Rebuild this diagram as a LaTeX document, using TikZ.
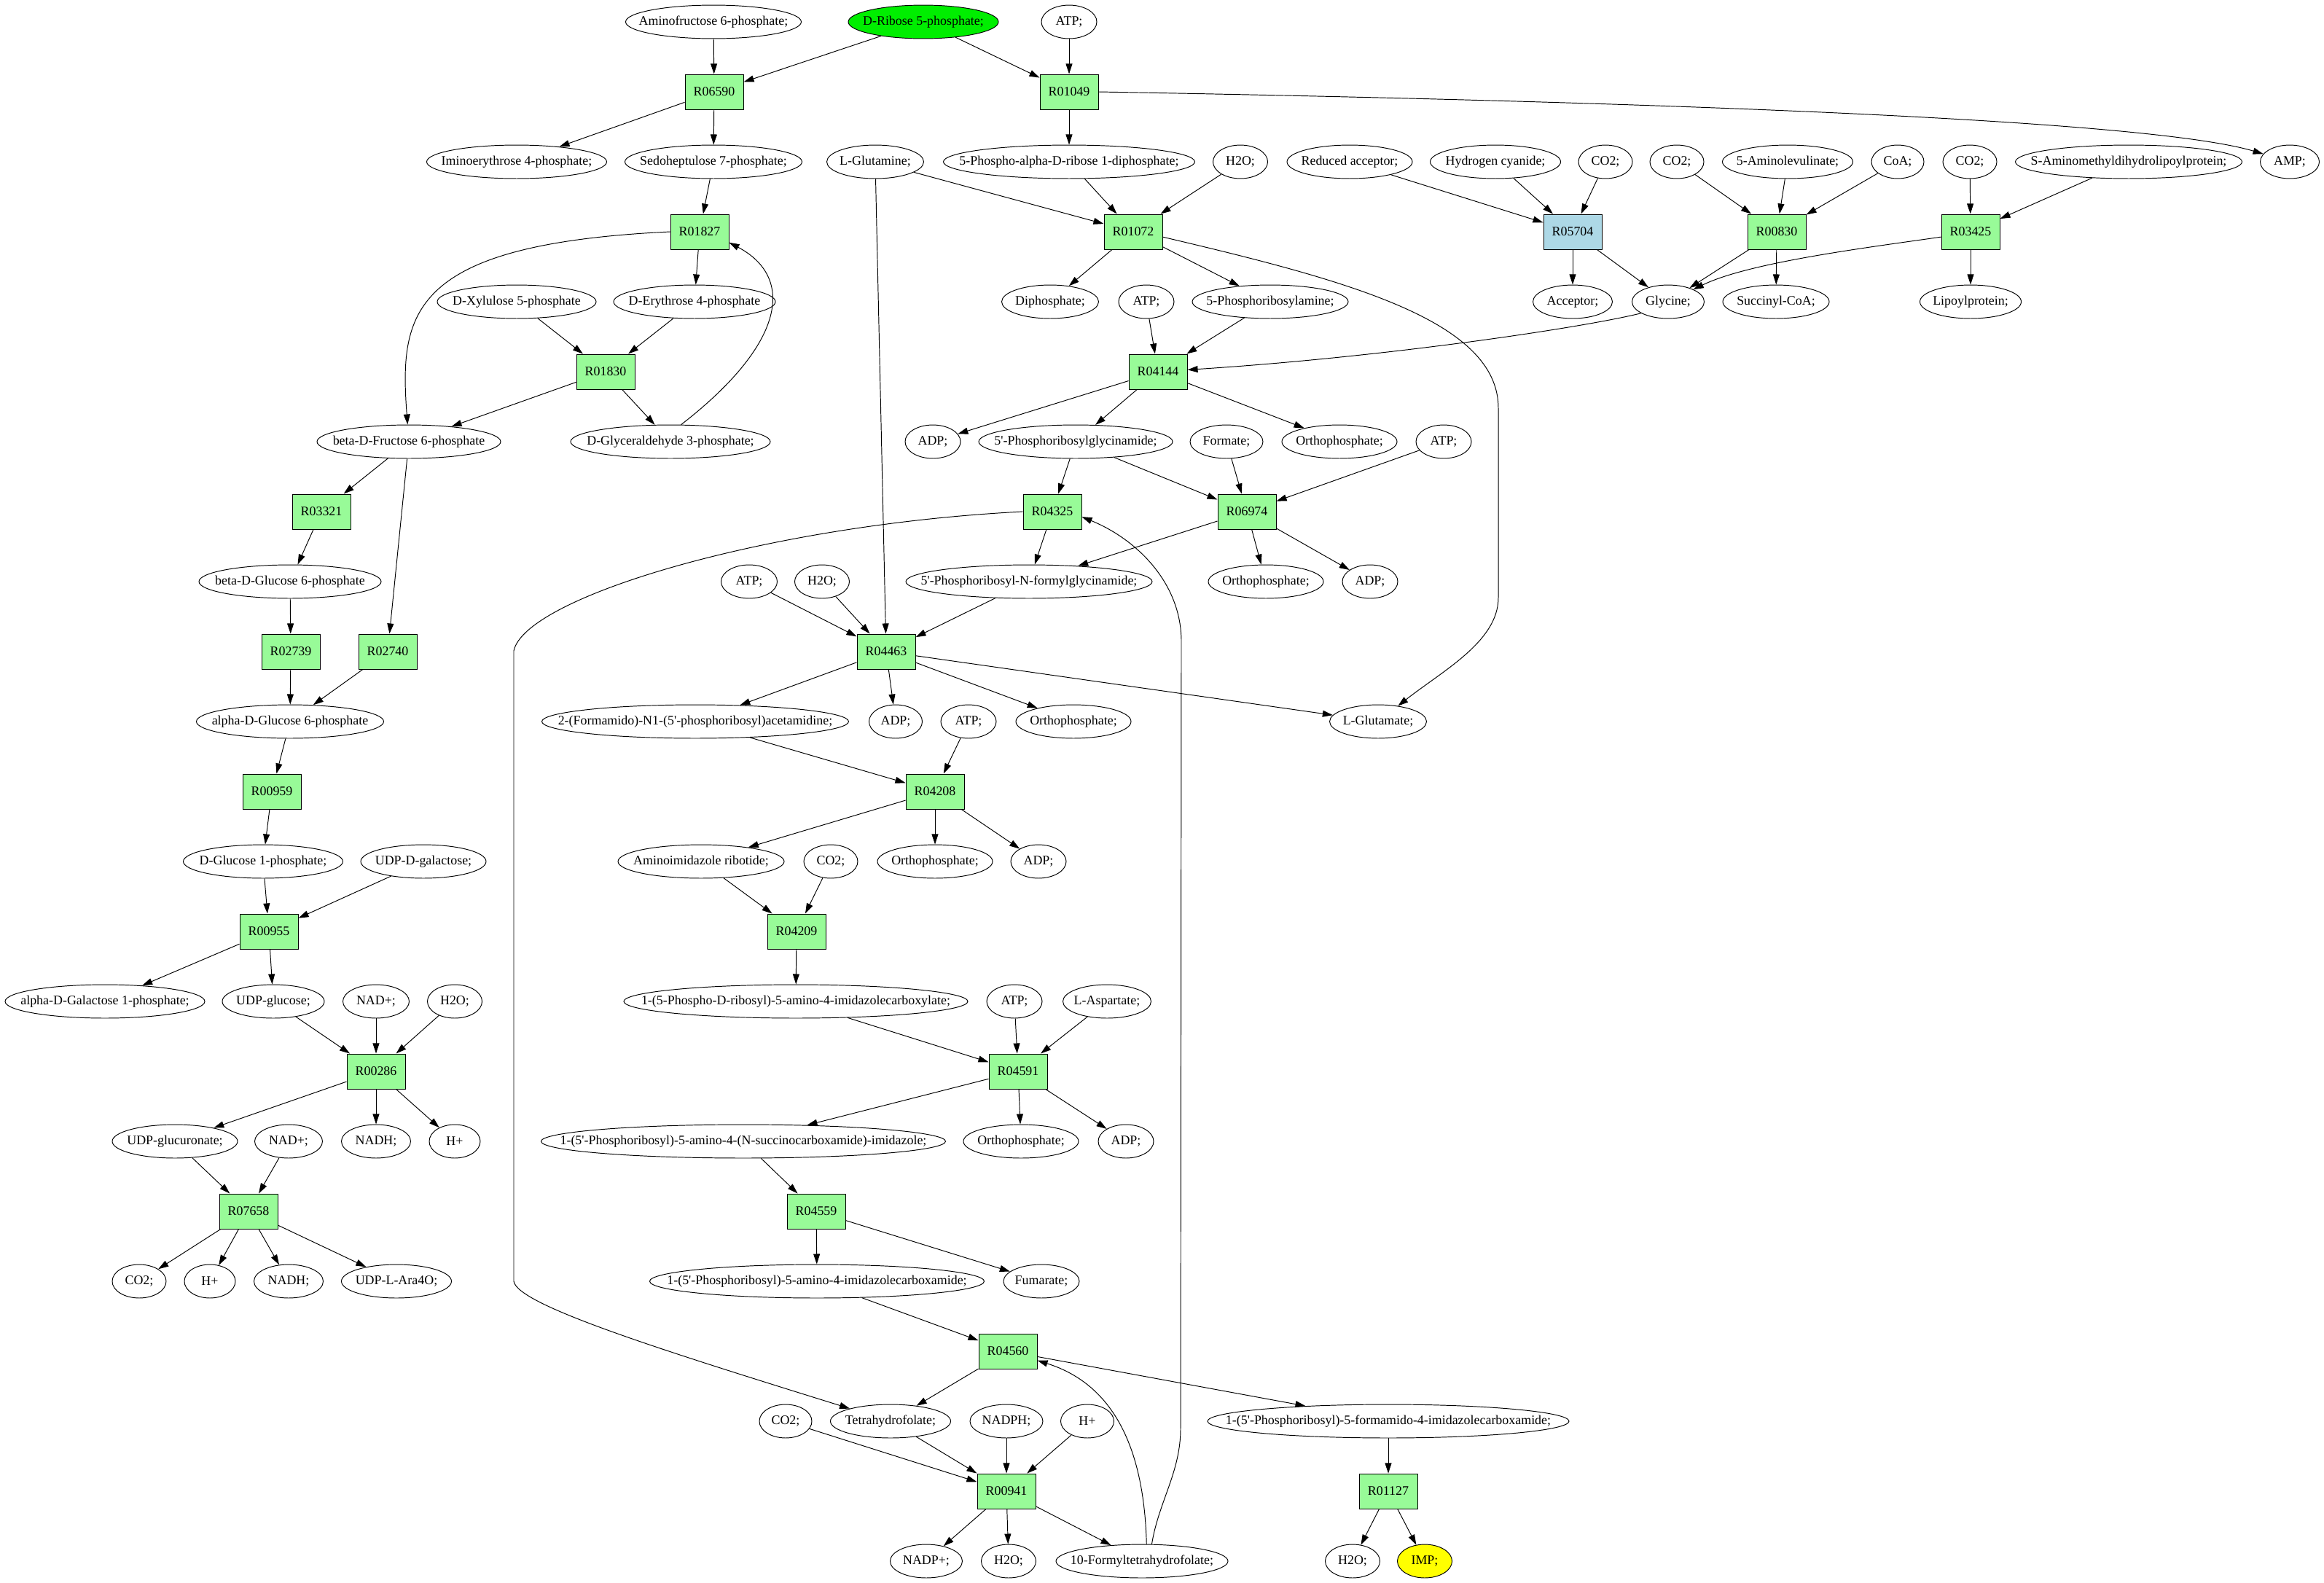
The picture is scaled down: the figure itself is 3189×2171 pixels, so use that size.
\documentclass[tikz,border=0pt]{standalone}
\usepackage{fontspec}
\setmainfont{Liberation Serif}
\usetikzlibrary{shapes.geometric,arrows.meta}
\definecolor{rgreen}{HTML}{98FB98}
\definecolor{rblue}{HTML}{ADD8E6}
\definecolor{rlime}{HTML}{00EE00}
\definecolor{ryellow}{HTML}{FFFF00}
\newcommand{\zw}[1]{\makebox[0pt]{#1}}
\newcommand{\q}{\textquotesingle}
\begin{document}
\begin{tikzpicture}[x=0.78125pt,y=-0.78125pt,
  every node/.style={font=\fontsize{14}{16}\selectfont},
  met/.style={ellipse,draw,line width=0.75pt,inner sep=0pt,minimum height=35.9pt,minimum width=#1*0.78125pt},
  rxn/.style={rectangle,draw,line width=0.75pt,fill=rgreen,inner sep=0pt,minimum width=62.5pt,minimum height=37.5pt},
  arr/.style={-{Triangle[length=11pt,width=7pt]},line width=0.75pt},
]
\fill[white] (0,0) rectangle (3189,2171);
\useasboundingbox (0,0) rectangle (3189,2171);

% row 0
\node[met=241] (aminofru) at (979,30) {\zw{Aminofructose 6-phosphate;}};
\node[met=206,fill=rlime] (ribose) at (1267,30) {\zw{D-Ribose 5-phosphate;}};
\node[met=76] (atp0) at (1467,30) {\zw{ATP;}};
% row 1
\node[rxn] (R06590) at (980,126) {R06590};
\node[rxn] (R01049) at (1467,126) {R01049};
% row 2
\node[met=247] (iminoery) at (709,222) {\zw{Iminoerythrose 4-phosphate;}};
\node[met=243] (sedo) at (979,222) {\zw{Sedoheptulose 7-phosphate;}};
\node[met=133] (glutamine) at (1201,222) {\zw{L-Glutamine;}};
\node[met=345] (prpp) at (1467,222) {\zw{5-Phospho-alpha-D-ribose 1-diphosphate;}};
\node[met=75] (h2o2) at (1702,222) {\zw{H2O;}};
\node[met=172] (redacc) at (1852,222) {\zw{Reduced acceptor;}};
\node[met=179] (hcn) at (2052,222) {\zw{Hydrogen cyanide;}};
\node[met=74] (co2a) at (2203,222) {\zw{CO2;}};
\node[met=74] (co2b) at (2301,222) {\zw{CO2;}};
\node[met=179] (ala) at (2453,222) {\zw{5-Aminolevulinate;}};
\node[met=72] (coa) at (2604,222) {\zw{CoA;}};
\node[met=74] (co2c) at (2703,222) {\zw{CO2;}};
\node[met=311] (sam) at (2921,222) {\zw{S-Aminomethyldihydrolipoylprotein;}};
\node[met=81] (amp) at (3142,222) {\zw{AMP;}};
% row 3
\node[rxn] (R01827) at (960,318) {R01827};
\node[rxn] (R01072) at (1555,318) {R01072};
\node[rxn,fill=rblue] (R05704) at (2158,318) {R05704};
\node[rxn] (R00830) at (2438,318) {R00830};
\node[rxn] (R03425) at (2704,318) {R03425};
% row 4
\node[met=218] (xylulose) at (709,414) {\zw{D-Xylulose 5-phosphate}};
\node[met=222] (erythrose) at (953,414) {\zw{D-Erythrose 4-phosphate}};
\node[met=133] (diphosphate) at (1441,414) {\zw{Diphosphate;}};
\node[met=76] (atp4) at (1573,414) {\zw{ATP;}};
\node[met=214] (pra) at (1743,414) {\zw{5-Phosphoribosylamine;}};
\node[met=109] (acceptor) at (2158,414) {\zw{Acceptor;}};
\node[met=99] (glycine) at (2289,414) {\zw{Glycine;}};
\node[met=146] (succoa) at (2437,414) {\zw{Succinyl-CoA;}};
\node[met=139] (lipoyl) at (2704,414) {\zw{Lipoylprotein;}};
% row 5
\node[rxn] (R01830) at (831,510) {R01830};
\node[rxn] (R04144) at (1589,510) {R04144};
% row 6
\node[met=252] (bfru) at (561,606) {\zw{beta-D-Fructose 6-phosphate}};
\node[met=274] (gap) at (920,606) {\zw{D-Glyceraldehyde 3-phosphate;}};
\node[met=76] (adp6) at (1280,606) {\zw{ADP;}};
\node[met=266] (gar) at (1476,606) {\zw{5\q-Phosphoribosylglycinamide;}};
\node[met=100] (formate) at (1683,606) {\zw{Formate;}};
\node[met=158] (pi6) at (1838,606) {\zw{Orthophosphate;}};
\node[met=76] (atp6) at (1981,606) {\zw{ATP;}};
% row 7
\node[rxn] (R03321) at (441,702) {R03321};
\node[rxn] (R04325) at (1444,702) {R04325};
\node[rxn] (R06974) at (1711,702) {R06974};
% row 8
\node[met=250] (bglc) at (398,798) {\zw{beta-D-Glucose 6-phosphate}};
\node[met=77] (atp8) at (1028,798) {\zw{ATP;}};
\node[met=75] (h2o8) at (1128,798) {\zw{H2O;}};
\node[met=338] (fgar) at (1412,798) {\zw{5\q-Phosphoribosyl-N-formylglycinamide;}};
\node[met=158] (pi8) at (1737,798) {\zw{Orthophosphate;}};
\node[met=76] (adp8) at (1880,798) {\zw{ADP;}};
% row 9
\node[rxn] (R02739) at (399,894) {R02739};
\node[rxn] (R02740) at (532,894) {R02740};
\node[rxn] (R04463) at (1216,894) {R04463};
% row 10
\node[met=257] (aglc) at (398,990) {\zw{alpha-D-Glucose 6-phosphate}};
\node[met=421] (fgam) at (954,990) {\zw{2-(Formamido)-N1-(5\q-phosphoribosyl)acetamidine;}};
\node[met=73] (adp10) at (1229,990) {\zw{ADP;}};
\node[met=76] (atp10) at (1329,990) {\zw{ATP;}};
\node[met=158] (pi10) at (1473,990) {\zw{Orthophosphate;}};
\node[met=133] (glutamate) at (1891,990) {\zw{L-Glutamate;}};
% row 11
\node[rxn] (R00959) at (373,1086) {R00959};
\node[rxn] (R04208) at (1283,1086) {R04208};
% row 12
\node[met=219] (g1p) at (361,1182) {\zw{D-Glucose 1-phosphate;}};
\node[met=172] (udpgal) at (581,1182) {\zw{UDP-D-galactose;}};
\node[met=228] (air) at (962,1182) {\zw{Aminoimidazole ribotide;}};
\node[met=74] (co2m) at (1140,1182) {\zw{CO2;}};
\node[met=158] (pi12) at (1283,1182) {\zw{Orthophosphate;}};
\node[met=76] (adp12) at (1425,1182) {\zw{ADP;}};
% row 13
\node[rxn] (R00955) at (369,1278) {R00955};
\node[rxn] (R04209) at (1093,1278) {R04209};
% row 14
\node[met=274] (agal) at (144,1374) {\zw{alpha-D-Galactose 1-phosphate;}};
\node[met=140] (udpglc) at (375,1374) {\zw{UDP-glucose;}};
\node[met=91] (nadA) at (516,1374) {\zw{NAD+;}};
\node[met=75] (h2oA) at (624,1374) {\zw{H2O;}};
\node[met=472] (cair) at (1092,1374) {\zw{1-(5-Phospho-D-ribosyl)-5-amino-4-imidazolecarboxylate;}};
\node[met=76] (atp14) at (1392,1374) {\zw{ATP;}};
\node[met=121] (asp) at (1519,1374) {\zw{L-Aspartate;}};
% row 15
\node[rxn] (R00286) at (516,1470) {R00286};
\node[rxn] (R04591) at (1397,1470) {R04591};
% row 16
\node[met=172] (udpglca) at (240,1566) {\zw{UDP-glucuronate;}};
\node[met=93] (nadB) at (396,1566) {\zw{NAD+;}};
\node[met=95] (nadhA) at (516,1566) {\zw{NADH;}};
\node[met=70] (hA) at (624,1566) {\zw{H+}};
\node[met=555] (saicar) at (1020,1566) {\zw{1-(5\q-Phosphoribosyl)-5-amino-4-(N-succinocarboxamide)-imidazole;}};
\node[met=158] (pi16) at (1401,1566) {\zw{Orthophosphate;}};
\node[met=76] (adp16) at (1545,1566) {\zw{ADP;}};
% row 17
\node[rxn] (R07658) at (341,1662) {R07658};
\node[rxn] (R04559) at (1120,1662) {R04559};
% row 18
\node[met=74] (co2B) at (191,1758) {\zw{CO2;}};
\node[met=70] (hB) at (288,1758) {\zw{H+}};
\node[met=95] (nadhB) at (396,1758) {\zw{NADH;}};
\node[met=151] (udpara) at (544,1758) {\zw{UDP-L-Ara4O;}};
\node[met=459] (aicar) at (1121,1758) {\zw{1-(5\q-Phosphoribosyl)-5-amino-4-imidazolecarboxamide;}};
\node[met=104] (fumarate) at (1429,1758) {\zw{Fumarate;}};
% row 19
\node[rxn] (R04560) at (1383,1854) {R04560};
% row 20
\node[met=72] (co2C) at (1078,1950) {\zw{CO2;}};
\node[met=165] (thf) at (1222,1950) {\zw{Tetrahydrofolate;}};
\node[met=100] (nadph) at (1381,1950) {\zw{NADPH;}};
\node[met=73] (hC) at (1492,1950) {\zw{H+}};
\node[met=496] (faicar) at (1905,1950) {\zw{1-(5\q-Phosphoribosyl)-5-formamido-4-imidazolecarboxamide;}};
% row 21
\node[rxn] (R00941) at (1381,2046) {R00941};
\node[rxn] (R01127) at (1905,2046) {R01127};
% row 22
\node[met=99] (nadp) at (1271,2142) {\zw{NADP+;}};
\node[met=75] (h2oB) at (1384,2142) {\zw{H2O;}};
\node[met=236] (fthf) at (1567,2142) {\zw{10-Formyltetrahydrofolate;}};
\node[met=75] (h2oC) at (1856,2142) {\zw{H2O;}};
\node[met=75,fill=ryellow] (imp) at (1955,2142) {\zw{IMP;}};

% straight edges
\foreach \a/\b in {aminofru/R06590, ribose/R06590, ribose/R01049, atp0/R01049,
  R06590/iminoery, R06590/sedo, R01049/prpp, sedo/R01827, R01827/erythrose,
  xylulose/R01830, erythrose/R01830, R01830/bfru, R01830/gap, bfru/R03321,
  bfru/R02740, R03321/bglc, bglc/R02739, R02739/aglc, R02740/aglc, aglc/R00959,
  R00959/g1p, g1p/R00955, udpgal/R00955, R00955/agal, R00955/udpglc,
  udpglc/R00286, nadA/R00286, h2oA/R00286, R00286/udpglca, R00286/nadhA, R00286/hA,
  udpglca/R07658, nadB/R07658, R07658/co2B, R07658/hB, R07658/nadhB, R07658/udpara,
  glutamine/R01072, prpp/R01072, h2o2/R01072, R01072/diphosphate, R01072/pra,
  glutamine/R04463, atp4/R04144, pra/R04144, R04144/adp6, R04144/gar, R04144/pi6,
  gar/R04325, gar/R06974, formate/R06974, atp6/R06974, R04325/fgar, R06974/fgar,
  R06974/pi8, R06974/adp8, atp8/R04463, h2o8/R04463, fgar/R04463,
  R04463/fgam, R04463/adp10, R04463/pi10, R04463/glutamate,
  fgam/R04208, atp10/R04208, R04208/air, R04208/pi12, R04208/adp12,
  air/R04209, co2m/R04209, R04209/cair, cair/R04591, atp14/R04591, asp/R04591,
  R04591/saicar, R04591/pi16, R04591/adp16, saicar/R04559, R04559/aicar,
  R04559/fumarate, aicar/R04560, R04560/thf, R04560/faicar,
  co2C/R00941, thf/R00941, nadph/R00941, hC/R00941,
  R00941/nadp, R00941/h2oB, R00941/fthf, faicar/R01127, R01127/h2oC, R01127/imp,
  redacc/R05704, hcn/R05704, co2a/R05704, R05704/acceptor, R05704/glycine,
  co2b/R00830, ala/R00830, coa/R00830, R00830/glycine, R00830/succoa,
  co2c/R03425, sam/R03425, R03425/lipoyl}
  \draw[arr] (\a) -- (\b);

% curved edges
\draw[arr] (R01049.east) .. controls (2300,140) and (2950,165) .. (amp);
\draw[arr] (R01827.west) .. controls (560,335) and (548,430) .. (bfru);
\draw[arr] (gap.58) .. controls (1080,470) and (1090,380) .. (R01827.-20);
\draw[arr] (R01072.-10) .. controls (1850,385) and (2056,440) .. (2056,560)
  -- (2056,820) .. controls (2056,880) and (1980,920) .. (glutamate);
\draw[arr] (glycine.203) .. controls (2170,450) and (1900,490) .. (R04144);
\draw[arr] (R03425.190) .. controls (2560,340) and (2400,360) .. (glycine);
\draw[arr] (R04325.west) .. controls (1050,720) and (720,820) .. (705,893)
  -- (705,1758) .. controls (710,1790) and (900,1850) .. (thf);
\draw[arr] (fthf.60) .. controls (1590,2060) and (1620,2020) .. (1620,1960)
  -- (1621,880) .. controls (1621,800) and (1560,740) .. (R04325.-10);
\draw[arr] (fthf.75) .. controls (1570,1990) and (1530,1900) .. (R04560);
\end{tikzpicture}
\end{document}
